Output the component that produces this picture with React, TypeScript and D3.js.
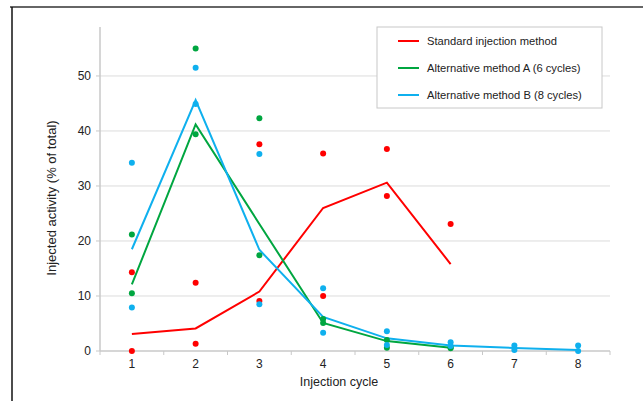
import React from 'react';
import * as d3 from 'd3';

// cycles on the x axis
const cycles = ['1', '2', '3', '4', '5', '6', '7', '8'];
const yTicks = [0, 10, 20, 30, 40, 50];

// mean lines
const standardLine = [3.1, 4.1, 10.8, 26.0, 30.6, 15.8];
const methodALine = [12.1, 41.2, 23.1, 5.1, 1.8, 0.6];
const methodBLine = [18.5, 45.6, 18.4, 6.2, 2.3, 1.0, 0.55, 0.2];

// individual measurements [cycle, value]
const standardDots: [string, number][] = [
  ['1', 14.3], ['1', 0.0], ['2', 12.4], ['2', 1.3], ['3', 37.6], ['3', 9.1],
  ['4', 35.9], ['4', 10.0], ['5', 36.7], ['5', 28.2], ['6', 23.1],
];
const methodADots: [string, number][] = [
  ['1', 21.2], ['1', 10.5], ['2', 55.0], ['2', 39.4], ['3', 42.3], ['3', 17.4],
  ['4', 5.8], ['4', 5.1], ['5', 2.0], ['5', 0.6], ['6', 0.7], ['6', 0.5],
];
const methodBDots: [string, number][] = [
  ['1', 34.2], ['1', 7.9], ['2', 51.5], ['2', 44.9], ['3', 35.8], ['3', 8.5],
  ['4', 11.4], ['4', 3.3], ['5', 3.6], ['5', 1.1], ['6', 1.6], ['6', 0.9],
  ['7', 1.0], ['7', 0.2], ['8', 1.0], ['8', 0.0],
];

const seriesNames = ['Standard injection method', 'Alternative method A (6 cycles)', 'Alternative method B (8 cycles)'];

const width = 643;
const height = 401;
const margin = { top: 27, right: 33, bottom: 50, left: 100 };
const font = '"Liberation Sans", Arial, sans-serif';

const App = () => {
  const x = d3.scaleBand().domain(cycles).range([margin.left, width - margin.right]).padding(0);
  const y = d3.scaleLinear().domain([0, 58.9]).range([height - margin.bottom, margin.top]);
  const cx = (c: string) => (x(c) ?? 0) + x.bandwidth() / 2;

  const line = d3.line<number>()
    .x((_, i) => cx(cycles[i]))
    .y(d => y(d));

  const series = [
    { name: seriesNames[0], color: '#ff0000', line: standardLine, dots: standardDots },
    { name: seriesNames[1], color: '#00a640', line: methodALine, dots: methodADots },
    { name: seriesNames[2], color: '#0fb0ee', line: methodBLine, dots: methodBDots },
  ];

  const x0 = margin.left;
  const x1 = width - margin.right;
  const yBase = y(0);

  const legend = { x: 377, y: 27, w: 225, h: 81 };

  return (
    <svg width={width} height={height} style={{ position: 'absolute', left: 0, top: 0, background: '#fff' }} fontFamily={font}>
      {/* frame */}
      <line x1={10} x2={width} y1={7} y2={7} stroke="#666" strokeWidth={2} />
      <line x1={12} x2={12} y1={7} y2={height} stroke="#111" strokeWidth={1.5} />

      {/* gridlines */}
      {yTicks.filter(t => t > 0).map(t => (
        <line key={t} x1={x0} x2={x1} y1={y(t)} y2={y(t)} stroke="#dcdcdc" strokeWidth={1} />
      ))}

      {/* y axis */}
      <line x1={x0} x2={x0} y1={margin.top} y2={yBase} stroke="#c8c8c8" strokeWidth={1.5} />
      {yTicks.map(t => (
        <g key={t}>
          <line x1={x0 - 4} x2={x0} y1={y(t)} y2={y(t)} stroke="#c8c8c8" />
          <text x={x0 - 9} y={y(t)} dy="0.35em" textAnchor="end" fontSize={12} fill="#222">{t}</text>
        </g>
      ))}

      {/* x axis */}
      <line x1={x0} x2={x1} y1={yBase} y2={yBase} stroke="#c8c8c8" strokeWidth={1.5} />
      {[...cycles.map(c => x(c) ?? 0), x1].map((p, i) => (
        <line key={i} x1={p} x2={p} y1={yBase} y2={yBase + 4} stroke="#c8c8c8" />
      ))}
      {cycles.map(c => (
        <text key={c} x={cx(c)} y={yBase + 17} textAnchor="middle" fontSize={12} fill="#222">{c}</text>
      ))}

      {/* axis titles */}
      <text x={339} y={386} textAnchor="middle" fontSize={12.5} fill="#222">Injection cycle</text>
      <text transform={`translate(56, 198) rotate(-90)`} textAnchor="middle" fontSize={13} fill="#222">
        Injected activity (% of total)
      </text>

      {/* lines */}
      {series.map(s => (
        <path key={s.name} d={line(s.line) ?? ''} fill="none" stroke={s.color} strokeWidth={2} />
      ))}

      {/* dots */}
      {series.map(s => s.dots.map(([c, v], i) => (
        <circle key={s.name + i} cx={cx(c)} cy={y(v)} r={3} fill={s.color} />
      )))}

      {/* legend */}
      <rect x={legend.x} y={legend.y} width={legend.w} height={legend.h} fill="#fff" stroke="#c8c8c8" />
      {series.map((s, i) => {
        const ly = 41 + i * 27;
        return (
          <g key={s.name}>
            <line x1={398} x2={419} y1={ly} y2={ly} stroke={s.color} strokeWidth={2} />
            <text x={427} y={ly} dy="0.35em" fontSize={11.2} fill="#222">{s.name}</text>
          </g>
        );
      })}
    </svg>
  );
};

export default App;
